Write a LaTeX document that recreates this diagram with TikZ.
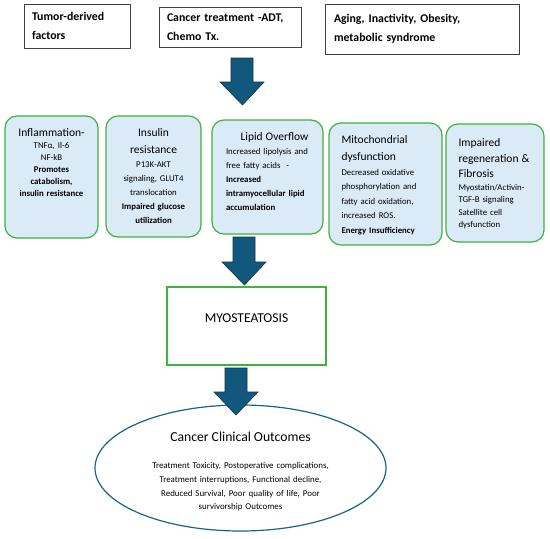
\documentclass[tikz,border=0pt]{standalone}
\usepackage{fontspec}
\setmainfont{Carlito}
\usepackage{tikz}
\usetikzlibrary{calc,positioning,shapes.geometric}
\usepackage{xcolor}
\definecolor{boxfill}{RGB}{219,234,247}
\definecolor{boxgreen}{RGB}{64,178,64}
\definecolor{arrowteal}{RGB}{17,88,124}
\definecolor{arrowedge}{RGB}{14,52,74}
\definecolor{ovaledge}{RGB}{22,100,140}

\newcommand{\boxtitle}{\fontsize{11.5}{17}\selectfont}
% fat block arrow: #1 top of shaft, #2 tip
\newcommand{\fatarrow}[2]{%
  \filldraw[fill=arrowteal, draw=arrowedge, line width=0.6pt]
    let \p1=(#1), \p2=(#2) in
    (\x1-11pt,\y1) -- (\x1+11pt,\y1) -- (\x1+11pt,\y2+23pt) -- (\x1+22pt,\y2+23pt)
    -- (\x2,\y2) -- (\x1-22pt,\y2+23pt) -- (\x1-11pt,\y2+23pt) -- cycle;}

\begin{document}
\begin{tikzpicture}[x=1pt, y=-1pt,
  srcbox/.style={draw=black!75, line width=0.7pt, inner xsep=8pt, inner ysep=0pt,
    align=left, font=\bfseries\fontsize{11.8}{19}\selectfont},
  mechbox/.style={draw=boxgreen, line width=1.2pt, fill=boxfill, rounded corners=12pt, inner sep=0pt},
  mechtext/.style={inner sep=0pt, font=\fontsize{8.8}{14}\selectfont},
  myobox/.style={draw=boxgreen, line width=1.2pt, inner sep=0pt, minimum width=159pt, minimum height=78pt},
  outcome/.style={ellipse, draw=ovaledge, line width=1.2pt, inner sep=0pt, minimum width=291pt, minimum height=126pt}
]
  \path[fill=white] (0,0) rectangle (550,539);

  % Causes
  \node[srcbox, text width=90pt, minimum width=106pt, minimum height=44pt] (tumor) at (77,26)
    {Tumor-derived\\factors};
  \node[srcbox, text width=126pt, minimum width=142pt, minimum height=40pt] (treat) at (230,27)
    {Cancer treatment -ADT,\\Chemo Tx.};
  \node[srcbox, text width=176pt, minimum width=194pt, inner xsep=9pt, minimum height=50pt] (aging) at (422,29)
    {Aging, Inactivity, Obesity,\\metabolic syndrome};

  % Mechanisms
  \node[mechbox, minimum width=93pt, minimum height=122pt] (infl) at (51.5,177) {};
  \node[mechbox, minimum width=95pt, minimum height=121pt] (insul) at (153.5,176.5) {};
  \node[mechbox, minimum width=111pt, minimum height=114pt] (lipid) at (267.5,177) {};
  \node[mechbox, minimum width=113pt, minimum height=122pt] (mito) at (385.5,184) {};
  \node[mechbox, minimum width=98pt, minimum height=118pt] (regen) at (495,183) {};

  \node[mechtext, font=\fontsize{8.8}{12}\selectfont, align=center, text width=90pt, below=13pt of infl.north] (infltxt)
    {{\boxtitle Inflammation-\par}TNFα, Il-6\\NF-kB\\\textbf{Promotes}\\\textbf{catabolism,}\\\textbf{insulin resistance}};
  \node[mechtext, align=center, text width=92pt, below=13pt of insul.north] (insultxt)
    {{\boxtitle Insulin\\resistance\par}P13K-AKT\\signaling, GLUT4\\translocation\\\textbf{Impaired glucose}\\\textbf{utilization}};
  \node[mechtext, align=left, text width=97pt, xshift=7pt, below=13pt of lipid.north] (lipidtxt)
    {{\centering\boxtitle Lipid Overflow\par}Increased lipolysis and\\free fatty acids~~-\\\textbf{Increased}\\\textbf{intramyocellular lipid}\\\textbf{accumulation}};
  \node[mechtext, font=\fontsize{8.8}{14.5}\selectfont, align=left, text width=100pt, xshift=6pt, below=13pt of mito.north] (mitotxt)
    {{\boxtitle Mitochondrial\\dysfunction\par}Decreased oxidative\\phosphorylation and\\fatty acid oxidation,\\increased ROS.\\\textbf{Energy Insufficiency}};
  \node[mechtext, font=\fontsize{8.8}{12.5}\selectfont, align=left, text width=85pt, xshift=6pt, below=15pt of regen.north] (regentxt)
    {{\fontsize{11.5}{15.5}\selectfont Impaired\\regeneration \&\\Fibrosis\par}Myostatin/Activin-\\TGF-B signaling\\Satellite cell\\dysfunction};

  % Result
  \node[myobox] (myo) at (246.5,326) {};
  \node[inner sep=0pt, font=\fontsize{13.5}{15}\selectfont, below=27pt of myo.north] (myotxt) {MYOSTEATOSIS};

  \node[outcome] (clin) at (240.5,468) {};
  \node[inner sep=0pt, align=center, text width=220pt, font=\fontsize{8.9}{13.7}\selectfont, below=27pt of clin.north] (clintxt)
    {{\fontsize{13.7}{16}\selectfont Cancer Clinical Outcomes\par}\vskip 14pt
     Treatment Toxicity, Postoperative complications,\\Treatment interruptions, Functional decline,\\Reduced Survival, Poor quality of life, Poor\\survivorship Outcomes};

  % Arrows
  \coordinate (a1s) at (242,58);   \coordinate (a1e) at (242.5,105);
  \coordinate (a2s) at (244,237);  \coordinate (a2e) at (244.5,285);
  \coordinate (a3s) at (236,368);  \coordinate (a3e) at (236,415);
  \fatarrow{a1s}{a1e}
  \fatarrow{a2s}{a2e}
  \fatarrow{a3s}{a3e}
\end{tikzpicture}
\end{document}
